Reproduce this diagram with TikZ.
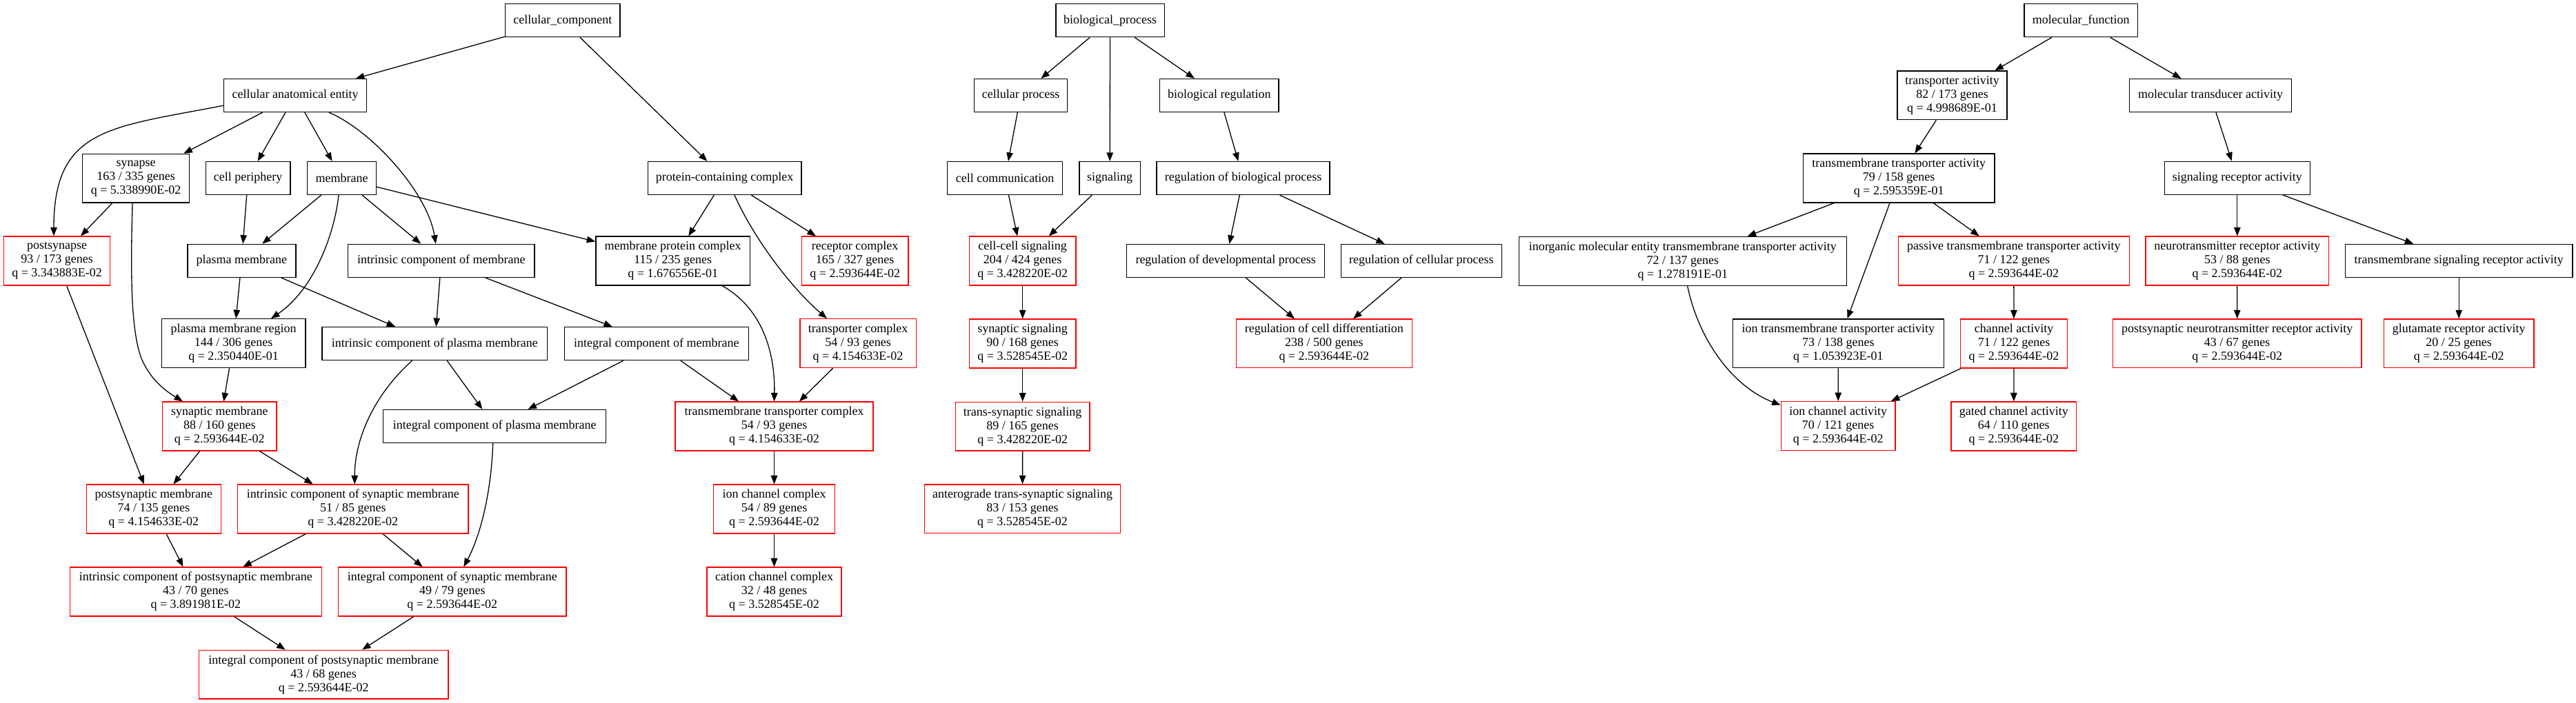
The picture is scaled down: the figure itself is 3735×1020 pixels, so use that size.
\documentclass[tikz,border=0pt]{standalone}
\usepackage{fontspec}
\setmainfont{Liberation Serif}
\usetikzlibrary{arrows.meta,calc}
\newcommand\gfont{\fontsize{18}{20}\selectfont}
\tikzset{
  gbox/.style={draw=black, line width=1.3pt, rectangle, inner sep=0pt, align=center, font=\gfont, fill=white},
  one/.style={gbox, minimum height=48pt},
  three/.style={gbox, minimum height=70.8pt},
  hit/.style={draw=red},
  ed/.style={line width=1.3pt, -{Triangle[length=12.5pt,width=9.5pt]}},
}
\begin{document}
\begin{tikzpicture}[x=1pt,y=-1pt]
\fill[white] (0,0) rectangle (3735,1020);
\useasboundingbox (0,0) rectangle (3735,1020);

% ---------- cellular_component ----------
\node[one,minimum width=166.5pt] (cc) at (815.8,29.7) {cellular\_component};
\node[one,minimum width=206.7pt] (cae) at (428,138.5) {cellular anatomical entity};
\node[three,minimum width=155pt] (syn) at (197.1,258.7) {synapse\\163 / 335 genes\\q = 5.338990E-02};
\node[one,minimum width=122.8pt] (cp) at (359.6,258.5) {cell periphery};
\node[one,minimum width=100pt] (mem) at (495.5,258.5) {membrane};
\node[one,minimum width=222.7pt] (pcc) at (1050.7,258.5) {protein-containing complex};
\node[three,hit,minimum width=154.4pt] (ps) at (82.6,378.5) {postsynapse\\93 / 173 genes\\q = 3.343883E-02};
\node[one,minimum width=157.1pt] (pm) at (350.4,378.3) {plasma membrane};
\node[one,minimum width=270.5pt] (icm) at (639.8,378.3) {intrinsic component of membrane};
\node[three,minimum width=223.7pt] (mpc) at (975.7,378.5) {membrane protein complex\\115 / 235 genes\\q = 1.676556E-01};
\node[three,hit,minimum width=154.8pt] (rc) at (1239.7,378.5) {receptor complex\\165 / 327 genes\\q = 2.593644E-02};
\node[three,minimum width=208.5pt] (pmr) at (338.6,498.2) {plasma membrane region\\144 / 306 genes\\q = 2.350440E-01};
\node[one,minimum width=326.8pt] (icpm) at (630.4,498.7) {intrinsic component of plasma membrane};
\node[one,minimum width=267pt] (igm) at (951.8,498.7) {integral component of membrane};
\node[three,hit,minimum width=168.3pt] (tc) at (1244,498.2) {transporter complex\\54 / 93 genes\\q = 4.154633E-02};
\node[three,hit,minimum width=165.2pt] (sm) at (318.3,618.5) {synaptic membrane\\88 / 160 genes\\q = 2.593644E-02};
\node[one,minimum width=322.8pt] (igpm) at (717.2,618.5) {integral component of plasma membrane};
\node[three,hit,minimum width=287pt] (ttc) at (1122.5,618.5) {transmembrane transporter complex\\54 / 93 genes\\q = 4.154633E-02};
\node[three,hit,minimum width=194.7pt] (psm) at (222.8,738.5) {postsynaptic membrane\\74 / 135 genes\\q = 4.154633E-02};
\node[three,hit,minimum width=334.4pt] (icsm) at (511.8,738.5) {intrinsic component of synaptic membrane\\51 / 85 genes\\q = 3.428220E-02};
\node[three,hit,minimum width=175.5pt] (icc) at (1122.5,738.5) {ion channel complex\\54 / 89 genes\\q = 2.593644E-02};
\node[three,hit,minimum width=365.2pt] (icpsm) at (283.9,858.5) {intrinsic component of postsynaptic membrane\\43 / 70 genes\\q = 3.891981E-02};
\node[three,hit,minimum width=330.4pt] (igsm) at (655.8,858.5) {integral component of synaptic membrane\\49 / 79 genes\\q = 2.593644E-02};
\node[three,hit,minimum width=195pt] (ccc) at (1122.5,858.5) {cation channel complex\\32 / 48 genes\\q = 3.528545E-02};
\node[three,hit,minimum width=361.6pt] (igpsm) at (469.2,978.7) {integral component of postsynaptic membrane\\43 / 68 genes\\q = 2.593644E-02};

\draw[ed] (cc) -- (cae);
\draw[ed] (cc) -- (pcc);
\draw[ed] (cae.188) .. controls (160,185) and (78,185) .. ([xshift=-4.6pt]ps.north);
\draw[ed] (cae) -- (syn);
\draw[ed] (cae) -- (cp);
\draw[ed] (cae) -- (mem);
\draw[ed] ([xshift=49pt]cae.south) .. controls (540,190) and (620,280) .. ([xshift=-8pt]icm.north);
\draw[ed] (syn) -- (ps);
\draw[ed] ([xshift=-5pt]syn.south) .. controls (189,400) and (190,480) .. (205,520) .. controls (220,555) and (245,570) .. ([xshift=-53.3pt]sm.north);
\draw[ed] (cp) -- (pm);
\draw[ed] (mem) -- (pm);
\draw[ed] (mem) -- (icm);
\draw[ed] ([xshift=-4.5pt]mem.south) .. controls (485,340) and (455,420) .. ([xshift=54.4pt]pmr.north);
\draw[ed] (mem) -- (mpc);
\draw[ed] (pcc) -- (mpc);
\draw[ed] (pcc) -- (rc);
\draw[ed] ([xshift=14.3pt]pcc.south) .. controls (1095,350) and (1150,420) .. ([xshift=-45pt]tc.north);
\draw[ed] (pm) -- (pmr);
\draw[ed] (pm) -- (icpm);
\draw[ed] (icm) -- (icpm);
\draw[ed] (icm) -- (igm);
\draw[ed] ([xshift=71.3pt]mpc.south) .. controls (1110,450) and (1124,520) .. (ttc.north);
\draw[ed] (igm) -- (igpm);
\draw[ed] (igm) -- (ttc);
\draw[ed] (tc) -- (ttc);
\draw[ed] (icpm) -- (igpm);
\draw[ed] ([xshift=-33pt]icpm.south) .. controls (540,575) and (514,640) .. ([xshift=2.5pt]icsm.north);
\draw[ed] (pmr) -- (sm);
\draw[ed] (ps) -- (psm);
\draw[ed] (sm) -- (psm);
\draw[ed] (sm) -- (icsm);
\draw[ed] (psm) -- (icpsm);
\draw[ed] (icsm) -- (icpsm);
\draw[ed] (icsm) -- (igsm);
\draw[ed] ([xshift=-2.5pt]igpm.south) .. controls (712,720) and (695,780) .. ([xshift=16.5pt]igsm.north);
\draw[ed] (icpsm) -- (igpsm);
\draw[ed] (igsm) -- (igpsm);
\draw[ed] (ttc) -- (icc);
\draw[ed] (icc) -- (ccc);

% ---------- biological_process ----------
\node[one,minimum width=157.3pt] (bp) at (1609.5,29.7) {biological\_process};
\node[one,minimum width=134.7pt] (cpr) at (1480,138.5) {cellular process};
\node[one,minimum width=172.3pt] (br) at (1767.8,138.5) {biological regulation};
\node[one,minimum width=167pt] (ccm) at (1457.2,258.5) {cell communication};
\node[one,minimum width=88.3pt] (sig) at (1609.2,258.5) {signaling};
\node[one,minimum width=251pt] (rbp) at (1802.5,258.5) {regulation of biological process};
\node[three,hit,minimum width=154.7pt] (ccs) at (1482.7,378.5) {cell-cell signaling\\204 / 424 genes\\q = 3.428220E-02};
\node[one,minimum width=287pt] (rdp) at (1777.2,378.5) {regulation of developmental process};
\node[one,minimum width=233pt] (rcp) at (2060.8,378.5) {regulation of cellular process};
\node[three,hit,minimum width=255pt] (rcd) at (1919.8,498.4) {regulation of cell differentiation\\238 / 500 genes\\q = 2.593644E-02};
\node[three,hit,minimum width=154.7pt] (ss) at (1482.7,498.5) {synaptic signaling\\90 / 168 genes\\q = 3.528545E-02};
\node[three,hit,minimum width=194.7pt] (tss) at (1482.7,618.7) {trans-synaptic signaling\\89 / 165 genes\\q = 3.428220E-02};
\node[three,hit,minimum width=284.4pt] (ats) at (1482.5,738.3) {anterograde trans-synaptic signaling\\83 / 153 genes\\q = 3.528545E-02};

\draw[ed] (bp) -- (cpr);
\draw[ed] (bp) -- (sig);
\draw[ed] (bp) -- (br);
\draw[ed] (cpr) -- (ccm);
\draw[ed] (ccm) -- (ccs);
\draw[ed] (sig) -- (ccs);
\draw[ed] (br) -- (rbp);
\draw[ed] (rbp) -- (rdp);
\draw[ed] (rbp) -- (rcp);
\draw[ed] (rdp) -- (rcd);
\draw[ed] (rcp) -- (rcd);
\draw[ed] (ccs) -- (ss);
\draw[ed] (ss) -- (tss);
\draw[ed] (tss) -- (ats);

% ---------- molecular_function ----------
\node[one,minimum width=164.3pt] (mf) at (3017.2,29.7) {molecular\_function};
\node[three,minimum width=159pt] (ta) at (2830.5,138.4) {transporter activity\\82 / 173 genes\\q = 4.998689E-01};
\node[one,minimum width=234.6pt] (mta) at (3205,138.6) {molecular transducer activity};
\node[three,minimum width=277.7pt] (tta) at (2753.2,258.5) {transmembrane transporter activity\\79 / 158 genes\\q = 2.595359E-01};
\node[one,minimum width=211pt] (sra) at (3243.8,258.2) {signaling receptor activity};
\node[three,minimum width=475pt] (imett) at (2439.8,378.8) {inorganic molecular entity transmembrane transporter activity\\72 / 137 genes\\q = 1.278191E-01};
\node[three,hit,minimum width=335pt] (ptta) at (2919.8,378.5) {passive transmembrane transporter activity\\71 / 122 genes\\q = 2.593644E-02};
\node[three,hit,minimum width=265.7pt] (nra) at (3243.8,378.5) {neurotransmitter receptor activity\\53 / 88 genes\\q = 2.593644E-02};
\node[one,minimum width=329.7pt] (tsra) at (3565.2,378.4) {transmembrane signaling receptor activity};
\node[three,minimum width=306pt] (itta) at (2665.3,498.3) {ion transmembrane transporter activity\\73 / 138 genes\\q = 1.053923E-01};
\node[three,hit,minimum width=154.6pt] (ca) at (2920,498.5) {channel activity\\71 / 122 genes\\q = 2.593644E-02};
\node[three,hit,minimum width=360.7pt] (pnra) at (3243.7,498.3) {postsynaptic neurotransmitter receptor activity\\43 / 67 genes\\q = 2.593644E-02};
\node[three,hit,minimum width=217.7pt] (gra) at (3565.2,498.3) {glutamate receptor activity\\20 / 25 genes\\q = 2.593644E-02};
\node[three,hit,minimum width=165.7pt] (ica) at (2665.2,618.1) {ion channel activity\\70 / 121 genes\\q = 2.593644E-02};
\node[three,hit,minimum width=181.7pt] (gca) at (2919.8,618.5) {gated channel activity\\64 / 110 genes\\q = 2.593644E-02};

\draw[ed] (mf) -- (ta);
\draw[ed] (mf) -- (mta);
\draw[ed] (ta) -- (tta);
\draw[ed] (tta) -- (imett);
\draw[ed] (tta) -- (itta);
\draw[ed] (tta) -- (ptta);
\draw[ed] ([xshift=6.9pt]imett.south) .. controls (2462,490) and (2510,560) .. (ica.160);
\draw[ed] (itta) -- (ica);
\draw[ed] (ptta) -- (ca);
\draw[ed] (ca) -- (ica);
\draw[ed] (ca) -- (gca);
\draw[ed] (mta) -- (sra);
\draw[ed] (sra) -- (nra);
\draw[ed] (sra) -- (tsra);
\draw[ed] (nra) -- (pnra);
\draw[ed] (tsra) -- (gra);
\end{tikzpicture}
\end{document}
